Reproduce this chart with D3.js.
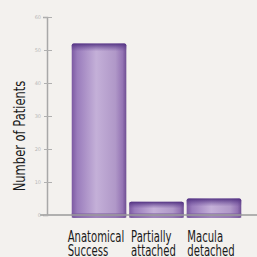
<!DOCTYPE html>
<html>
<head>
<meta charset="utf-8">
<script src="https://cdn.jsdelivr.net/npm/d3@7"></script>
<style>
  html, body { margin: 0; padding: 0; background: #f3f1ee; }
  svg { display: block; }
</style>
</head>
<body>
<div id="chart"></div>
<script>
// data
const categories = ["Anatomical Success", "Partially attached", "Macula detached"];
const labelLines = [["Anatomical", "Success"], ["Partially", "attached"], ["Macula", "detached"]];
const patients = [52, 4, 5];
const tickValues = [0, 10, 20, 30, 40, 50, 60];

const width = 257, height = 257;
const labelFont = "'DejaVu Sans Condensed', 'DejaVu Sans', sans-serif";
const squeeze = 0.7; // the original type is a very narrow face

const svg = d3.select("#chart")
  .append("svg")
  .attr("width", width)
  .attr("height", height);

svg.append("rect")
  .attr("width", width)
  .attr("height", height)
  .attr("fill", "#f3f1ee");

const x = d3.scaleBand()
  .domain(categories)
  .range([70, 243])
  .paddingInner(0.05)
  .paddingOuter(0.03);

const y = d3.scaleLinear()
  .domain([0, 60])
  .range([215, 17]);

const defs = svg.append("defs");

// side-to-side shading of the bars
const side = defs.append("linearGradient")
  .attr("id", "bar-side")
  .attr("x1", "0%").attr("y1", "0%")
  .attr("x2", "100%").attr("y2", "0%");
[["0%", "#7c5aa2"], ["10%", "#9a7cbc"], ["45%", "#c4b0d8"], ["80%", "#b098c8"], ["93%", "#9474b4"], ["100%", "#6e4e92"]]
  .forEach(s => side.append("stop").attr("offset", s[0]).attr("stop-color", s[1]));

// dark cap on top of each bar
const cap = defs.append("linearGradient")
  .attr("id", "bar-cap")
  .attr("x1", "0%").attr("y1", "0%")
  .attr("x2", "0%").attr("y2", "100%");
cap.append("stop").attr("offset", "0%").attr("stop-color", "#4e2e7e").attr("stop-opacity", 0.95);
cap.append("stop").attr("offset", "100%").attr("stop-color", "#6a4a98").attr("stop-opacity", 0);

const bars = svg.append("g")
  .selectAll("g")
  .data(categories)
  .join("g");

bars.append("rect")
  .attr("x", d => x(d))
  .attr("y", (d, i) => y(patients[i]))
  .attr("width", x.bandwidth())
  .attr("height", (d, i) => y(0) - y(patients[i]) + 3)
  .attr("rx", 2)
  .attr("fill", "url(#bar-side)");

bars.append("rect")
  .attr("x", d => x(d))
  .attr("y", (d, i) => y(patients[i]))
  .attr("width", x.bandwidth())
  .attr("height", (d, i) => Math.min(8, (y(0) - y(patients[i])) * 0.5))
  .attr("rx", 2)
  .attr("fill", "url(#bar-cap)");

// darker foot on each bar
bars.append("rect")
  .attr("x", d => x(d))
  .attr("y", y(0) - 2)
  .attr("width", x.bandwidth())
  .attr("height", 5)
  .attr("fill", "#7a5a9e")
  .attr("opacity", 0.5);

// baseline
svg.append("line")
  .attr("x1", 40).attr("x2", width)
  .attr("y1", y(0)).attr("y2", y(0))
  .attr("stroke", "#9a9a9a")
  .attr("stroke-width", 1.5);

// y axis
const yAxis = svg.append("g")
  .attr("transform", "translate(47,0)")
  .call(d3.axisLeft(y).tickValues(tickValues).tickSize(4).tickPadding(2));

yAxis.select(".domain")
  .attr("stroke", "#a8a8a8")
  .attr("stroke-width", 1.5);
yAxis.selectAll(".tick line")
  .attr("x1", -3).attr("x2", 5)
  .attr("stroke", "#b0b0b0");
yAxis.selectAll(".tick text")
  .attr("fill", "#b8b8b8")
  .style("font-family", "DejaVu Sans")
  .style("font-size", "5px");

// axis title
svg.append("text")
  .attr("transform", `translate(25,${(y(0) + y(60)) / 2 + 20}) rotate(-90) scale(0.8,1)`)
  .attr("text-anchor", "middle")
  .style("font-family", labelFont)
  .style("font-stretch", "condensed")
  .style("font-size", "16px")
  .attr("fill", "#1a1a1a")
  .text("Number of Patients");

// category labels, lines left-aligned under each bar
const labels = svg.append("g")
  .selectAll("g")
  .data(categories)
  .join("g");

const labelText = labels.append("text")
  .style("font-family", labelFont)
  .style("font-stretch", "condensed")
  .style("font-size", "16px")
  .attr("fill", "#1a1a1a");

labelText.selectAll("tspan")
  .data((d, i) => labelLines[i])
  .join("tspan")
  .attr("x", 0)
  .attr("dy", (d, j) => j === 0 ? 0 : 14)
  .text(d => d);

labels.each(function (d) {
  const spans = d3.select(this).selectAll("tspan").nodes();
  const widest = d3.max(spans, n => n.getComputedTextLength()) * squeeze;
  const left = x(d) + x.bandwidth() / 2 - widest / 2 - 3;
  d3.select(this).attr("transform", `translate(${left},242) scale(${squeeze},1)`);
});
</script>
</body>
</html>
